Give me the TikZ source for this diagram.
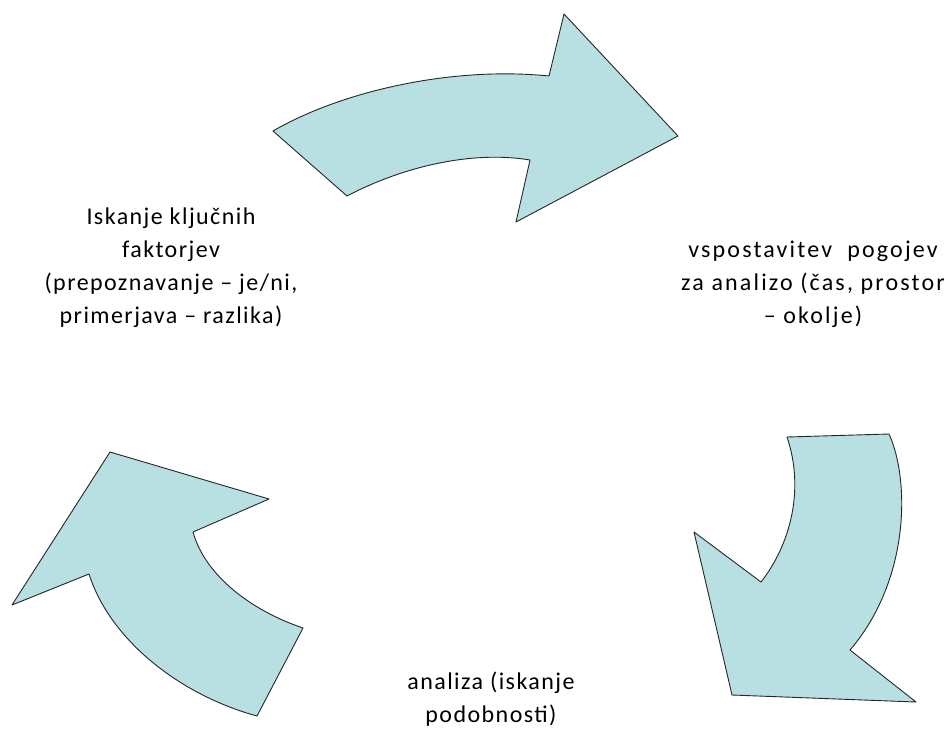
\documentclass[tikz,border=0pt]{standalone}
\usepackage{fontspec}
\setmainfont{Carlito}
\definecolor{arrowfill}{RGB}{184,223,226}

\begin{document}
\begin{tikzpicture}[x=1pt,y=-1pt,
    cyclearrow/.style={draw=black!85, fill=arrowfill, line width=0.9pt, line join=round},
    steptext/.style={align=center, inner sep=0pt,
      font=\fontsize{24}{33}\selectfont\addfontfeatures{LetterSpace=6}},
    widetext/.style={steptext,
      font=\fontsize{24}{33}\selectfont\addfontfeatures{LetterSpace=9}}]
\useasboundingbox (0,0) rectangle (949,736);

% Top arrow: pointing right
\draw[cyclearrow]
  (273,131)
  .. controls (340,92) and (450,66) ..
  (549,76)
  -- (564,14) -- (678,136) -- (516,222) -- (530,160)
  .. controls (470,150) and (400,168) ..
  (347,196)
  -- cycle;

% Right arrow: pointing down
\draw[cyclearrow]
  (889,434)
  .. controls (910,480) and (910,580) ..
  (850,650)
  -- (916,702) -- (732,695) -- (694,532) -- (761,582)
  .. controls (790,545) and (805,490) ..
  (787,437)
  -- cycle;

% Left arrow: pointing up
\draw[cyclearrow]
  (257,716)
  .. controls (180,695) and (110,640) ..
  (89,574)
  -- (12,605) -- (110,452) -- (269,499) -- (193,532)
  .. controls (205,575) and (250,610) ..
  (303,628)
  -- cycle;

% Step labels
\node[steptext] (factors) at (171,268)
  {Iskanje ključnih\\ faktorjev\\ (prepoznavanje -- je/ni,\\ primerjava -- razlika)};
\node[widetext] (setup) at (813,284)
  {vspostavitev\ \ pogojev\\ za analizo (čas, prostor\\ -- okolje)};
\node[steptext] (analysis) at (491,699)
  {analiza (iskanje\\ podobnosti)};
\end{tikzpicture}
\end{document}
